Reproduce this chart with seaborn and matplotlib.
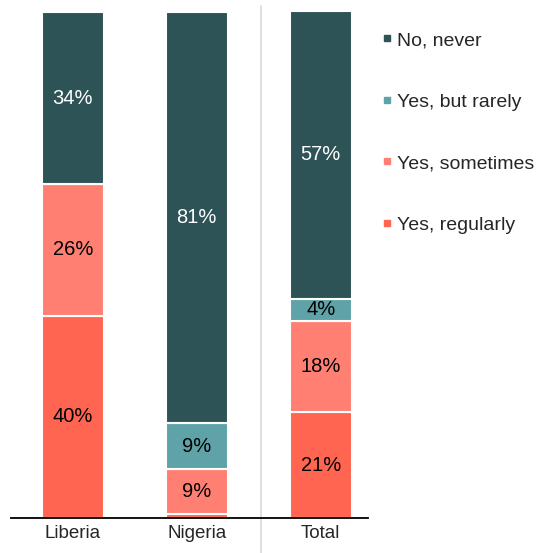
import matplotlib
matplotlib.use("Agg")
import matplotlib.pyplot as plt
from matplotlib.lines import Line2D
import seaborn as sns
import numpy as np
import pandas as pd

countries = ["Liberia", "Nigeria", "Total"]
series_names = ["Yes, regularly", "Yes, sometimes", "Yes, but rarely", "No, never"]
regularly = [40, 0.8, 21]
sometimes = [26, 8.9, 18]
rarely = [0, 9.1, 4.3]
never = [34, 81.2, 57]
colors = {"Yes, regularly": "#FF6550", "Yes, sometimes": "#FF8073",
          "Yes, but rarely": "#5FA3A8", "No, never": "#2D5356"}
label_colors = {"Yes, regularly": "black", "Yes, sometimes": "black",
                "Yes, but rarely": "black", "No, never": "white"}

sns.set_style("white")
plt.rcParams["font.family"] = ["Liberation Sans", "DejaVu Sans"]

fig = plt.figure(figsize=(5.44, 5.53), dpi=100)
ax = fig.add_axes([0.02, 0.063, 0.656, 0.915])

values = {"Yes, regularly": regularly, "Yes, sometimes": sometimes,
          "Yes, but rarely": rarely, "No, never": never}
bottom = np.zeros(len(countries))
for name in series_names:
    vals = np.array(values[name], dtype=float)
    df = pd.DataFrame({"country": countries, "value": vals})
    sns.barplot(data=df, x="country", y="value", color=colors[name], width=0.5,
                bottom=bottom, edgecolor="white", linewidth=1.5, ax=ax,
                saturation=1)
    for i, v in enumerate(vals):
        if v >= 3:
            ax.text(i, bottom[i] + v / 2, f"{round(v):.0f}%", ha="center", va="center",
                    color=label_colors[name], fontsize=14.5)
    bottom += vals

ax.set_xlim(-0.5, 2.38)
ax.set_ylim(0, 100)
ax.set_xlabel("")
ax.set_ylabel("")
ax.set_yticks([])
ax.tick_params(axis="x", length=0, labelsize=13.5, pad=5)
for s in ["top", "right", "left"]:
    ax.spines[s].set_visible(False)
ax.spines["bottom"].set_color("black")
ax.spines["bottom"].set_linewidth(1.3)

ax.axvline(1.52, ymin=-0.075, ymax=1.012, color="#d9d9d9", linewidth=1.2,
           clip_on=False, zorder=0)

handles = [Line2D([0], [0], marker="s", linestyle="", markersize=5,
                  color=colors[n]) for n in ["No, never", "Yes, but rarely",
                                             "Yes, sometimes", "Yes, regularly"]]
labels = ["No, never", "Yes, but rarely", "Yes, sometimes", "Yes, regularly"]
fig.legend(handles, labels, loc="upper left", bbox_to_anchor=(0.689, 0.957),
           frameon=False, fontsize=14, handlelength=0.5, handletextpad=0.25,
           labelspacing=2.26, borderaxespad=0)

fig.savefig("out.png", dpi=100)
